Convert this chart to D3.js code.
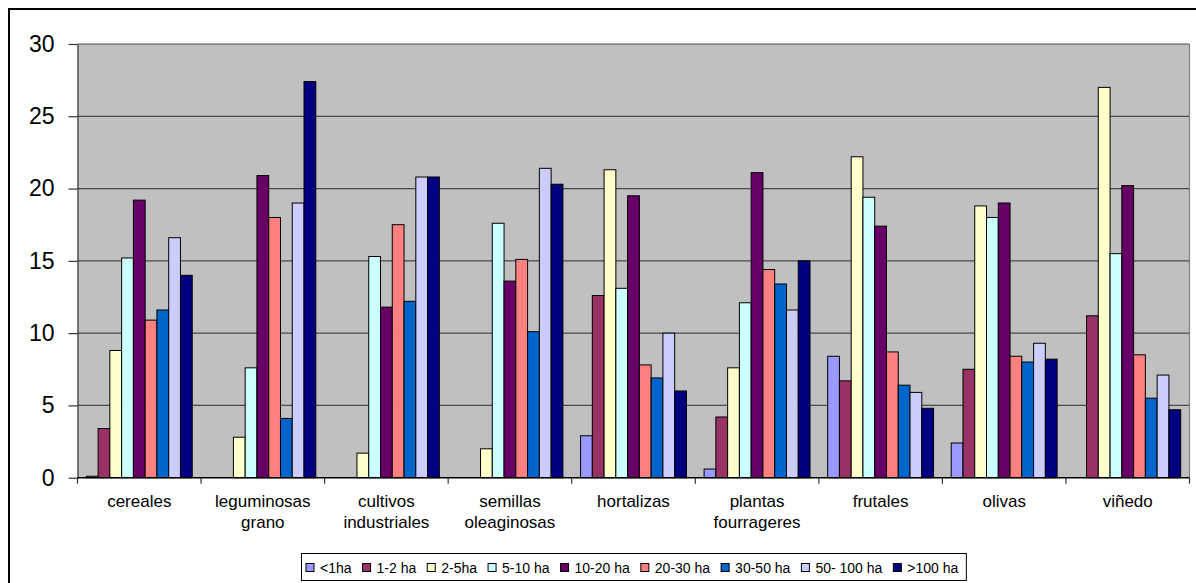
<!DOCTYPE html>
<html>
<head>
<meta charset="utf-8">
<script src="https://cdn.jsdelivr.net/npm/d3@7"></script>
<style>
  html, body { margin: 0; padding: 0; background: #ffffff; }
  svg { display: block; font-family: "Liberation Sans", Arial, sans-serif; }
</style>
</head>
<body>
<svg id="chart" width="1196" height="583"></svg>
<script>
// Crop types (x axis) and farm-size classes (series)
const categories = ["cereales", "leguminosas grano", "cultivos industriales", "semillas oleaginosas",
                    "hortalizas", "plantas fourrageres", "frutales", "olivas", "viñedo"];
const seriesNames = ["<1ha", "1-2 ha", "2-5ha", "5-10 ha", "10-20 ha", "20-30 ha", "30-50 ha", "50- 100 ha", ">100 ha"];
const seriesColors = ["#9999FF", "#993366", "#FFFFCC", "#CCFFFF", "#660066", "#FF8080", "#0066CC", "#CCCCFF", "#000080"];

// One array per size class, values in category order
const lt1ha    = [0.1, 0,    0,    0,    2.9,  0.6,  8.4,  2.4,  0];
const ha1to2   = [3.4, 0,    0,    0,    12.6, 4.2,  6.7,  7.5,  11.2];
const ha2to5   = [8.8, 2.8,  1.7,  2.0,  21.3, 7.6,  22.2, 18.8, 27.0];
const ha5to10  = [15.2, 7.6, 15.3, 17.6, 13.1, 12.1, 19.4, 18.0, 15.5];
const ha10to20 = [19.2, 20.9, 11.8, 13.6, 19.5, 21.1, 17.4, 19.0, 20.2];
const ha20to30 = [10.9, 18.0, 17.5, 15.1, 7.8,  14.4, 8.7,  8.4,  8.5];
const ha30to50 = [11.6, 4.1,  12.2, 10.1, 6.9,  13.4, 6.4,  8.0,  5.5];
const ha50to100 = [16.6, 19.0, 20.8, 21.4, 10.0, 11.6, 5.9,  9.3,  7.1];
const gt100ha  = [14.0, 27.4, 20.8, 20.3, 6.0,  15.0, 4.8,  8.2,  4.7];

const seriesValues = [lt1ha, ha1to2, ha2to5, ha5to10, ha10to20, ha20to30, ha30to50, ha50to100, gt100ha];
const yTicks = [0, 5, 10, 15, 20, 25, 30];

const svg = d3.select("#chart");

// Outer chart frame (extends past the right and bottom of the view)
svg.append("rect")
  .attr("x", 9).attr("y", 9).attr("width", 1240).attr("height", 640)
  .attr("fill", "#ffffff").attr("stroke", "#000000").attr("stroke-width", 2);

const plot = { left: 77.5, right: 1189.5, top: 44, bottom: 477.7 };

const x0 = d3.scaleBand().domain(categories).range([plot.left, plot.right]).padding(0);
const x1 = d3.scaleBand().domain(seriesNames).range([0, x0.bandwidth()])
  .paddingInner(0).paddingOuter(0.75);
const y = d3.scaleLinear().domain([0, 30]).range([plot.bottom, plot.top]);

// Plot background
svg.append("rect")
  .attr("x", plot.left).attr("y", plot.top)
  .attr("width", plot.right - plot.left).attr("height", plot.bottom - plot.top)
  .attr("fill", "#C0C0C0");

// Horizontal gridlines
svg.append("g").selectAll("line").data(yTicks.filter(t => t > 0)).join("line")
  .attr("x1", plot.left).attr("x2", plot.right)
  .attr("y1", d => y(d)).attr("y2", d => y(d))
  .attr("stroke", "#4a4a4a").attr("stroke-width", 1.2);

// Right edge of the plot area
svg.append("line")
  .attr("x1", plot.right).attr("x2", plot.right)
  .attr("y1", plot.top).attr("y2", plot.bottom)
  .attr("stroke", "#808080").attr("stroke-width", 1.2);

// Bars
const rows = [];
seriesNames.forEach((s, si) => {
  categories.forEach((c, ci) => {
    const v = seriesValues[si][ci];
    if (v > 0) rows.push({ s, si, c, v });
  });
});

svg.append("g").selectAll("rect").data(rows).join("rect")
  .attr("x", d => x0(d.c) + x1(d.s))
  .attr("y", d => y(d.v))
  .attr("width", x1.bandwidth())
  .attr("height", d => y(0) - y(d.v))
  .attr("fill", d => seriesColors[d.si])
  .attr("stroke", "#000000").attr("stroke-width", 1);

// Y axis
const yAxis = d3.axisLeft(y).tickValues(yTicks).tickSize(9).tickPadding(14).tickSizeOuter(0);
const gy = svg.append("g").attr("transform", `translate(${plot.left},0)`).call(yAxis);
gy.select(".domain").attr("stroke", "#333333").attr("stroke-width", 1.2);
gy.selectAll(".tick line").attr("stroke", "#333333").attr("stroke-width", 1.2);
gy.selectAll(".tick text")
  .attr("font-size", 23).attr("fill", "#000000")
  .attr("font-family", "'Liberation Sans', Arial, sans-serif");

// X axis: baseline, category separators, two-line labels
svg.append("line")
  .attr("x1", plot.left).attr("x2", plot.right)
  .attr("y1", plot.bottom).attr("y2", plot.bottom)
  .attr("stroke", "#000000").attr("stroke-width", 1.5);

const boundaries = categories.map(c => x0(c)).concat([plot.right]);
svg.append("g").selectAll("line").data(boundaries).join("line")
  .attr("x1", d => d).attr("x2", d => d)
  .attr("y1", plot.bottom).attr("y2", plot.bottom + 6)
  .attr("stroke", "#333333").attr("stroke-width", 1.2);

const labels = svg.append("g").selectAll("text").data(categories).join("text")
  .attr("x", d => x0(d) + x0.bandwidth() / 2)
  .attr("y", 506.5)
  .attr("text-anchor", "middle")
  .attr("font-size", 17)
  .attr("fill", "#000000");
labels.each(function (d) {
  const words = d.split(" ");
  const t = d3.select(this);
  words.forEach((w, i) => {
    t.append("tspan")
      .attr("x", x0(d) + x0.bandwidth() / 2)
      .attr("dy", i === 0 ? 0 : 21.7)
      .text(w);
  });
});

// Legend
const legend = svg.append("g");
const legendFont = 14;
const sw = 9, gapAfterSwatch = 5, gapAfterText = 11;
let cursor = 306;
const items = [];
seriesNames.forEach((s, i) => {
  const g = legend.append("g");
  g.append("rect")
    .attr("x", cursor).attr("y", 563.5)
    .attr("width", sw - 1).attr("height", sw - 1)
    .attr("fill", seriesColors[i]).attr("stroke", "#000000").attr("stroke-width", 1);
  const txt = g.append("text")
    .attr("x", cursor + sw + gapAfterSwatch).attr("y", 573)
    .attr("font-size", legendFont).attr("fill", "#000000")
    .text(s);
  const w = txt.node().getComputedTextLength();
  cursor += sw + gapAfterSwatch + w + gapAfterText;
});
legend.insert("rect", ":first-child")
  .attr("x", 301.5).attr("y", 553.5)
  .attr("width", cursor - gapAfterText + 8 - 301.5).attr("height", 27)
  .attr("fill", "#ffffff").attr("stroke", "#000000").attr("stroke-width", 1);
</script>
</body>
</html>
